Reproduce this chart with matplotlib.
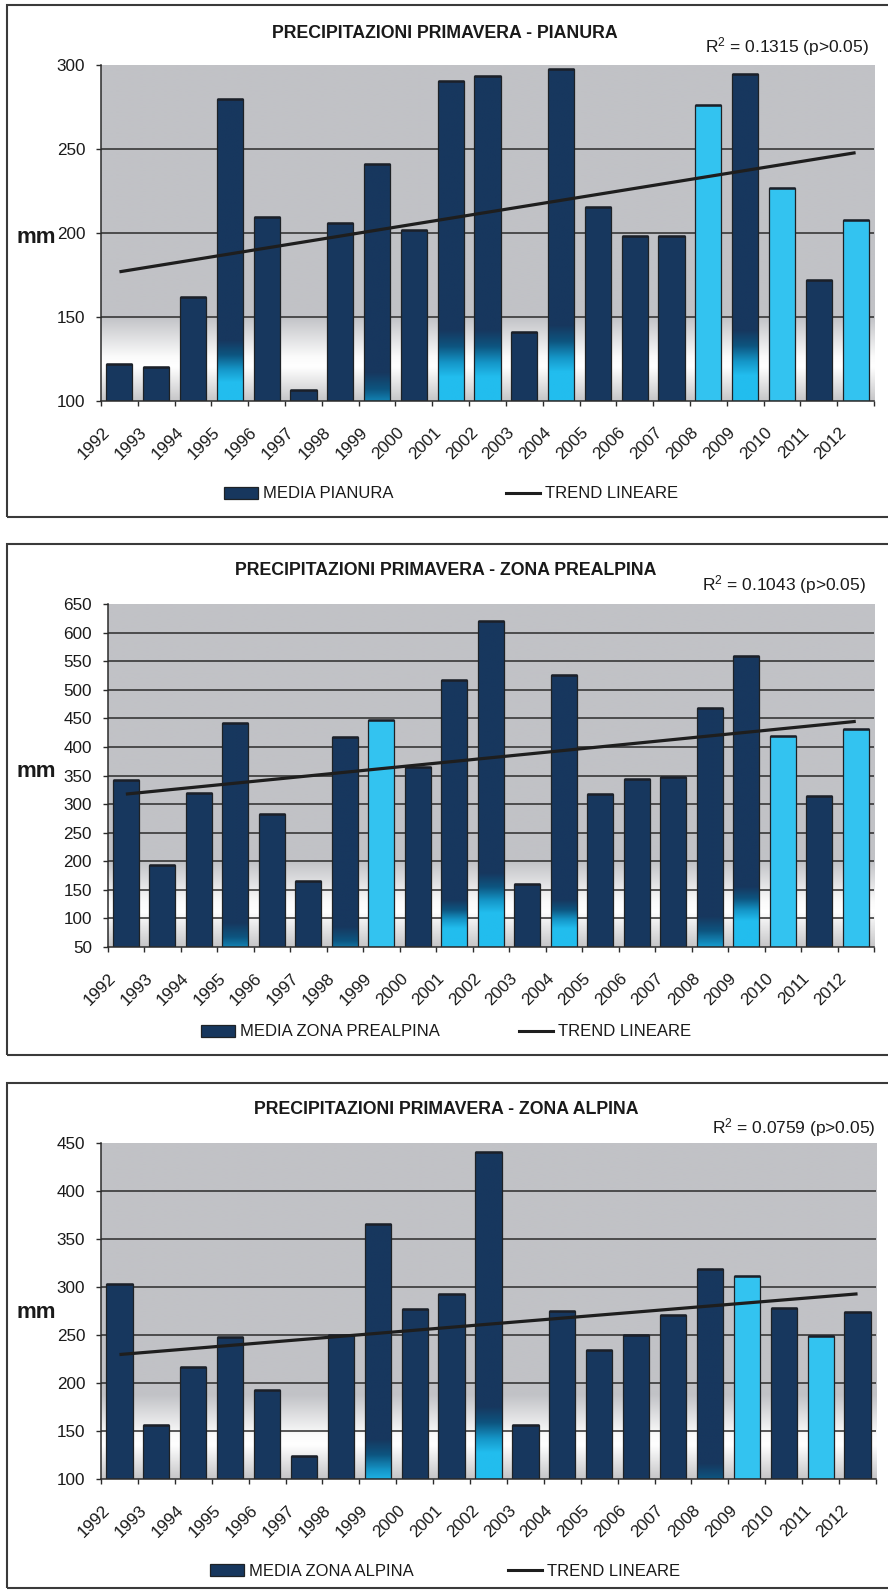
import numpy as np
import matplotlib
matplotlib.use("Agg")
import matplotlib.pyplot as plt
from matplotlib.colors import LinearSegmentedColormap
from matplotlib.patches import Rectangle, Patch
from matplotlib.lines import Line2D
from matplotlib.transforms import ScaledTranslation, blended_transform_factory

plt.rcParams['font.family'] = ['Liberation Sans', 'DejaVu Sans']
plt.rcParams['mathtext.fontset'] = 'custom'
plt.rcParams['mathtext.rm'] = 'Liberation Sans'
plt.rcParams['mathtext.it'] = 'Liberation Sans:italic'
plt.rcParams['mathtext.bf'] = 'Liberation Sans:bold'

# ---------------------------------------------------------------- data
years = list(range(1992, 2013))
year_labels = [str(y) for y in years]

pianura = [122, 120, 162, 280, 209.5, 106.5, 206, 241, 202, 290.5, 293.5,
           141, 297.5, 215.5, 198, 198, 276, 294.5, 226.5, 172, 207.5]
prealpina = [343, 193, 320, 442, 283, 166, 418, 447, 364, 517.5, 620.5,
             161, 525, 318, 344.5, 347, 468.5, 559, 419.5, 314.5, 431.5]
alpina = [303, 156.5, 216.5, 248, 193, 124, 250, 366, 277.5, 293, 440.5,
          156.5, 275, 234.5, 250, 271, 319, 311.5, 278.5, 248.5, 274]

titles = ["PRECIPITAZIONI PRIMAVERA - PIANURA",
          "PRECIPITAZIONI PRIMAVERA - ZONA PREALPINA",
          "PRECIPITAZIONI PRIMAVERA - ZONA ALPINA"]
series_labels = ["MEDIA PIANURA", "MEDIA ZONA PREALPINA", "MEDIA ZONA ALPINA"]
trend_label = "TREND LINEARE"
r2_texts = [r"R$^{2}$ = 0.1315 (p>0.05)", r"R$^{2}$ = 0.1043 (p>0.05)",
            r"R$^{2}$ = 0.0759 (p>0.05)"]

# bar fill: 'n' dark, 'c' light, (a, b) dark above a blending to light at b
pianura_fill = ['n', 'n', 'n', (136, 111), 'n', 'n', 'n', (117, 88), 'n',
                (142, 114), (142, 114), 'n', (145, 117), 'n', 'n', 'n', 'c',
                (142, 115), 'c', 'n', 'c']
prealpina_fill = ['n', 'n', 'n', (92, 20), 'n', 'n', (85, 15), 'c', 'n',
                  (132, 82), (179, 109), 'n', (132, 82), 'n', 'n', 'n',
                  (103, 30), (155, 95), 'c', 'n', 'c']
alpina_fill = ['n', 'n', 'n', 'n', 'n', 'n', 'n', (141, 95), 'n', 'n',
               (175, 127), 'n', 'n', 'n', 'n', 'n', (116, 70), 'c', 'n',
               'c', 'n']

# ---------------------------------------------------------------- style
W, H, DPI = 888, 1590, 100
NAVY = '#17375e'
CYAN = '#33c3f0'
EDGE = '#1e2226'
GRID = '#2b2b2b'
TEXT = '#1a1a1a'

bg_cmap = LinearSegmentedColormap.from_list(
    'bg', [(0.0, '#c6c6c8'), (0.10, '#ffffff'), (0.13, '#fbfbfb'),
           (0.25, '#c1c2c6'), (1.0, '#c1c2c6')])
bar_cmap = LinearSegmentedColormap.from_list(
    'bar', [(0.0, NAVY), (0.35, '#0d5580'), (0.7, '#1597c9'), (1.0, '#22bdee')])

fig = plt.figure(figsize=(W / DPI, H / DPI), dpi=DPI)


def fx(px):
    return px / W


def fy(py):
    return 1 - py / H


def panel(values, fills, ylim, step, title, series_label, r2, lay):
    ymin, ymax = ylim
    l, t, r, b = lay['axes']
    ax = fig.add_axes([fx(l), fy(b), fx(r - l), (b - t) / H])

    # frame round the whole panel
    bx0, by0, bx1, by1 = lay['box']
    fig.add_artist(Rectangle((fx(bx0), fy(by1)), fx(bx1 - bx0), (by1 - by0) / H,
                             transform=fig.transFigure, fill=False,
                             edgecolor='#3a3a3a', linewidth=1.5, zorder=0))

    # background shading of the plot area
    grad = np.linspace(0, 1, 256)[:, None]
    ax.imshow(grad, extent=[0, 1, 0, 1], transform=ax.transAxes, origin='lower',
              aspect='auto', cmap=bg_cmap, vmin=0, vmax=1, zorder=0,
              interpolation='bilinear')

    x = np.arange(len(values))
    vals = np.asarray(values, dtype=float)
    width = 0.71
    face = [CYAN if f == 'c' else NAVY for f in fills]
    bars = ax.bar(x, vals - ymin, bottom=ymin, width=width, color=face,
                  edgecolor=EDGE, linewidth=0.9, zorder=2)
    for bar, f in zip(bars, fills):
        if isinstance(f, tuple):
            top, bot = f
            x0, w = bar.get_x(), bar.get_width()
            y0, h = bar.get_y(), bar.get_height()
            ys = np.linspace(y0, y0 + h, 300)
            tt = np.clip((top - ys) / (top - bot), 0, 1)[:, None]
            img = ax.imshow(tt, extent=[x0, x0 + w, y0, y0 + h], origin='lower',
                            aspect='auto', cmap=bar_cmap, vmin=0, vmax=1,
                            zorder=2.1, interpolation='bilinear')
            img.set_clip_path(bar)
            bar.set_facecolor('none')
            bar.set_zorder(2.2)
    ax.hlines(vals, x - width / 2, x + width / 2, color='#1b2029', lw=1.8, zorder=2.5)

    # linear trend
    coef = np.polyfit(x, vals, 1)
    xt = np.array([x[0], x[-1]])
    ax.plot(xt, np.polyval(coef, xt), color='#1e1e1e', lw=2.3, zorder=3,
            solid_capstyle='butt')

    ax.set_xlim(-0.5, len(values) - 0.5)
    ax.set_ylim(ymin, ymax)
    yt = np.arange(ymin, ymax + step / 2, step)
    ax.set_yticks(yt)
    ax.set_yticklabels([str(int(v)) for v in yt])
    for v in yt[1:-1]:
        ax.axhline(v, color=GRID, lw=1.1, zorder=1)

    ax.set_xticks(np.arange(-0.5, len(values), 1.0))
    ax.set_xticklabels([])
    ax.tick_params(axis='x', direction='out', length=3.8, width=1, color=GRID)
    ax.tick_params(axis='y', direction='out', length=3.8, width=1, color=GRID,
                   pad=7.5, labelsize=12.3, labelcolor=TEXT)
    for s in ('top', 'right'):
        ax.spines[s].set_visible(False)
    for s in ('left', 'bottom'):
        ax.spines[s].set_color(GRID)
        ax.spines[s].set_linewidth(1.1)

    trans = blended_transform_factory(ax.transData, ax.transAxes) + \
        ScaledTranslation(-12 / DPI, -29 / DPI, fig.dpi_scale_trans)
    for xi, lab in zip(x, year_labels):
        ax.text(xi, 0, lab, transform=trans, rotation=45, ha='right', va='center',
                rotation_mode='anchor', fontsize=12.3, color=TEXT, clip_on=False)

    fig.text(fx(lay['title'][0]), fy(lay['title'][1]), title, ha='center',
             va='baseline', fontsize=12.8, fontweight='bold', color=TEXT)
    fig.text(fx(lay['r2'][0]), fy(lay['r2'][1]), r2, ha='right', va='baseline',
             fontsize=12.5, color=TEXT)
    fig.text(fx(17), fy(lay['mm']), 'mm', ha='left', va='baseline', fontsize=16,
             fontweight='bold', color=TEXT, zorder=5)

    handles = [Patch(facecolor=NAVY, edgecolor=EDGE, linewidth=0.9, label=series_label),
               Line2D([], [], color='#1e1e1e', lw=2.2, label=trend_label)]
    fig.legend(handles=handles, loc='center',
               bbox_to_anchor=(fx(lay['legend'][0]), fy(lay['legend'][1])),
               ncol=2, frameon=False, fontsize=12, handlelength=2.0,
               handleheight=0.7, handletextpad=0.3, columnspacing=lay['colsp'],
               borderpad=0, borderaxespad=0, labelcolor=TEXT)
    return ax


panel(pianura, pianura_fill, (100, 300), 50, titles[0], series_labels[0], r2_texts[0],
      dict(axes=(101, 65, 874, 401), box=(7, 5, 894, 517), title=(445, 37.5),
           r2=(869, 52.5), mm=243, legend=(451, 494), colsp=6.8))
panel(prealpina, prealpina_fill, (50, 650), 50, titles[1], series_labels[1], r2_texts[1],
      dict(axes=(107.6, 604, 874, 947), box=(7, 544, 894, 1055), title=(446, 575),
           r2=(866, 590.5), mm=777.5, legend=(446, 1032), colsp=4.8))
panel(alpina, alpina_fill, (100, 450), 50, titles[2], series_labels[2], r2_texts[2],
      dict(axes=(101, 1143, 876, 1479), box=(7, 1083, 894, 1588), title=(446.5, 1114),
           r2=(875, 1133.5), mm=1318.5, legend=(445, 1571), colsp=5.7))

fig.savefig('out.png', dpi=DPI)
